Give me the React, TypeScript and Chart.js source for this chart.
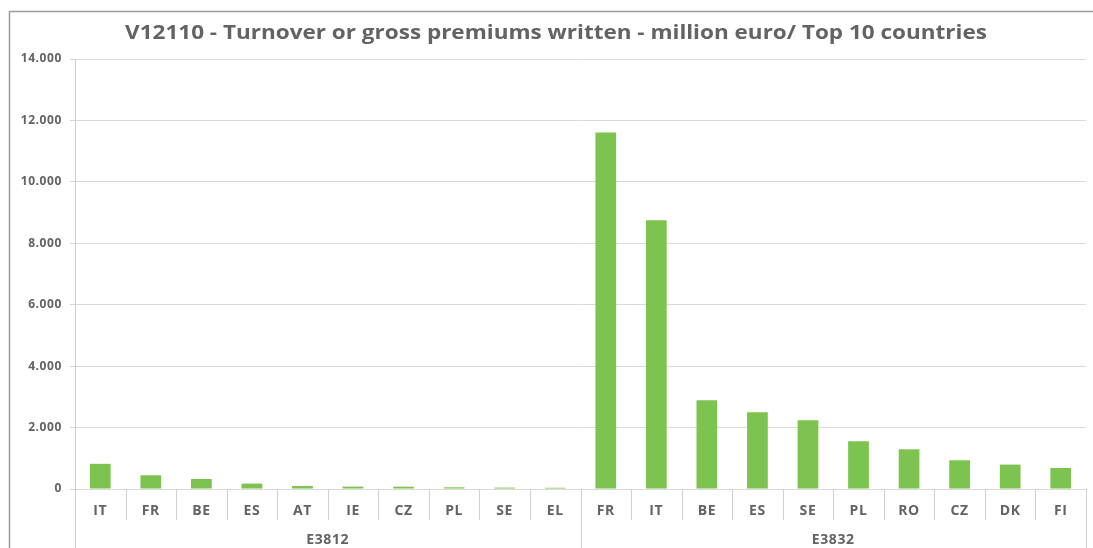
import React, { useEffect, useRef } from "react";
import { Chart, registerables } from "chart.js";

Chart.register(...registerables);

const titleText = "V12110 - Turnover or gross premiums written - million euro/ Top 10 countries";
const groupNames = ["E3812", "E3832"];
const e3812Countries = ["IT", "FR", "BE", "ES", "AT", "IE", "CZ", "PL", "SE", "EL"];
const e3812Values = [820, 446, 326, 176, 98, 78, 75, 55, 45, 40];
const e3832Countries = ["FR", "IT", "BE", "ES", "SE", "PL", "RO", "CZ", "DK", "FI"];
const e3832Values = [11610, 8750, 2890, 2500, 2240, 1553, 1293, 935, 795, 684];
const yTicks = [0, 2000, 4000, 6000, 8000, 10000, 12000, 14000];

const categories = [...e3812Countries, ...e3832Countries];
const values = [...e3812Values, ...e3832Values];
const groupSizes = [e3812Countries.length, e3832Countries.length];

const fmt = (v: number) => String(Math.round(v)).replace(/\B(?=(\d{3})+(?!\d))/g, ".");

const FONT = "'Open Sans', 'Noto Sans', sans-serif";

const spacingPlugin = {
  id: "spacing",
  beforeDraw(chart: any) {
    (chart.ctx as any).letterSpacing = "0.6px";
  },
};

const decorPlugin = {
  id: "decor",
  afterDraw(chart: any) {
    const ctx = chart.ctx;
    const x = chart.scales.x;
    const area = chart.chartArea;
    const H = chart.height;
    const W = chart.width;
    ctx.save();
    // outer border
    ctx.strokeStyle = "#9a9a9a";
    ctx.lineWidth = 1.5;
    ctx.beginPath();
    ctx.moveTo(9.5, H + 2);
    ctx.lineTo(9.5, 11.5);
    ctx.lineTo(W + 2, 11.5);
    ctx.stroke();

    // title (slightly widened to match the reference)
    ctx.save();
    ctx.fillStyle = "#636363";
    ctx.font = `bold 20px ${FONT}`;
    (ctx as any).letterSpacing = "0px";
    ctx.textAlign = "center";
    ctx.textBaseline = "middle";
    ctx.translate(556, 33);
    ctx.scale(1.125, 1);
    ctx.fillText(titleText, 0, 0);
    ctx.restore();

    const n = categories.length;
    const step = n > 1 ? x.getPixelForValue(1) - x.getPixelForValue(0) : 50;
    const edge = (i: number) => x.getPixelForValue(i) - step / 2;

    ctx.strokeStyle = "#d0d0d0";
    ctx.lineWidth = 1;
    // category separators
    for (let i = 1; i < n; i++) {
      const px = Math.round(edge(i)) + 0.5;
      ctx.beginPath();
      ctx.moveTo(px, area.bottom);
      ctx.lineTo(px, area.bottom + 31);
      ctx.stroke();
    }
    // group separators
    let start = 0;
    const bounds = [0];
    groupSizes.forEach((s) => {
      start += s;
      bounds.push(start);
    });
    bounds.forEach((b, k) => {
      const px = Math.round(edge(b)) + 0.5;
      ctx.beginPath();
      ctx.moveTo(px, k === 0 ? area.top : area.bottom);
      ctx.lineTo(px, H);
      ctx.stroke();
    });
    // group labels
    ctx.fillStyle = "#636363";
    ctx.font = `bold 14px ${FONT}`;
    ctx.textAlign = "center";
    ctx.textBaseline = "middle";
    for (let g = 0; g < groupNames.length; g++) {
      const cx = (edge(bounds[g]) + edge(bounds[g + 1])) / 2;
      ctx.fillText(groupNames[g], cx, 540);
    }
    ctx.restore();
  },
};

export default function App() {
  const ref = useRef<HTMLCanvasElement>(null);
  useEffect(() => {
    if (!ref.current) return;
    const chart = new Chart(ref.current, {
      type: "bar",
      data: {
        labels: categories,
        datasets: [
          {
            data: values,
            backgroundColor: "#7dc34f",
            borderWidth: 0,
            barPercentage: 0.82,
            categoryPercentage: 0.5,
          },
        ],
      },
      options: {
        responsive: false,
        animation: false,
        layout: { padding: { top: 59, right: 7, left: 0, bottom: 0 } },
        plugins: { legend: { display: false }, tooltip: { enabled: false }, title: { display: false } },
        scales: {
          x: {
            grid: { display: false, drawTicks: false },
            border: { display: false },
            ticks: {
              color: "#636363",
              font: { family: FONT, size: 14, weight: "bold" },
              padding: 14,
              maxRotation: 0,
              autoSkip: false,
            },
            afterFit: (s: any) => {
              s.height = 59;
            },
          },
          y: {
            min: 0,
            max: 14000,
            afterBuildTicks: (s: any) => {
              s.ticks = yTicks.map((v) => ({ value: v }));
            },
            grid: { color: "#d9d9d9", tickLength: 5, tickColor: "#d0d0d0" },
            border: { display: false },
            ticks: {
              color: "#636363",
              font: { family: FONT, size: 12, weight: "bold" },
              padding: 8,
              callback: (v: any) => fmt(Number(v)),
            },
            afterFit: (s: any) => {
              s.width = 75;
            },
          },
        },
      },
      plugins: [spacingPlugin, decorPlugin],
    });
    return () => chart.destroy();
  }, []);
  return (
    <div style={{ position: "fixed", left: 0, top: 0, width: 1093, height: 548, background: "#fff" }}>
      <canvas ref={ref} width={1093} height={548} style={{ display: "block" }} />
    </div>
  );
}
